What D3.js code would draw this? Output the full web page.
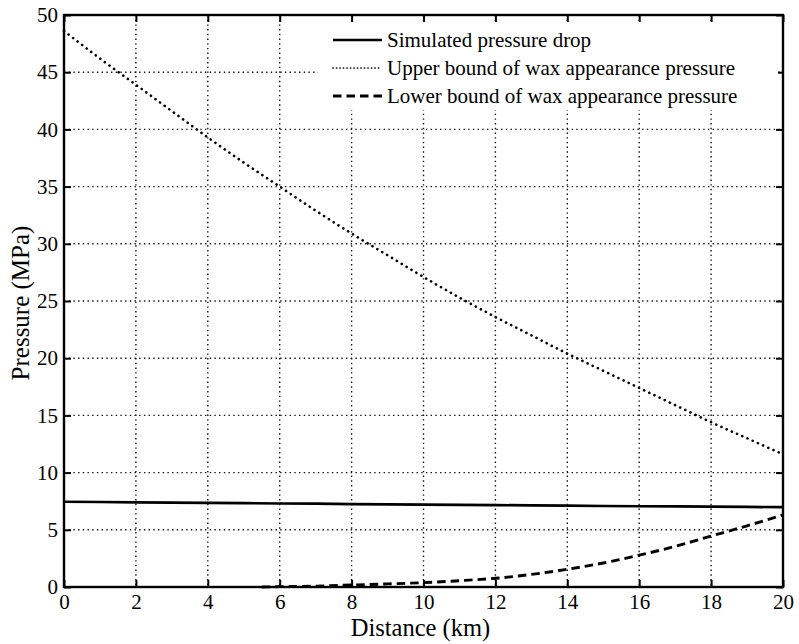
<!DOCTYPE html>
<html>
<head>
<meta charset="utf-8">
<script src="https://cdn.jsdelivr.net/npm/d3@7"></script>
<style>
  html, body { margin: 0; padding: 0; background: #fff; }
  svg { display: block; font-family: "Liberation Serif", "Times New Roman", serif; }
</style>
</head>
<body>
<svg id="chart" width="799" height="644"></svg>
<script>
// Distance along the pipeline (km)
const distance = [0, 1, 2, 3, 4, 5, 6, 7, 8, 9, 10, 11, 12, 13, 14, 15, 16, 17, 18, 19, 20];
// Simulated pressure drop (MPa)
const simulatedPressure = [7.45, 7.43, 7.40, 7.38, 7.35, 7.33, 7.30, 7.28, 7.25, 7.23, 7.20, 7.18, 7.16, 7.13, 7.11, 7.08, 7.06, 7.04, 7.02, 7.00, 6.98];
// Upper bound of wax appearance pressure (MPa)
const upperBound = [48.6, 46.2, 43.9, 41.6, 39.3, 37.1, 35.0, 32.9, 30.9, 29.0, 27.1, 25.3, 23.6, 22.0, 20.4, 18.9, 17.4, 15.9, 14.4, 13.0, 11.6];
// Lower bound of wax appearance pressure (MPa); curve begins near 5.5 km
const lowerDistance = [5.5, 6, 7, 8, 9, 10, 11, 12, 13, 14, 15, 16, 17, 18, 19, 20];
const lowerBound = [0.0, 0.03, 0.08, 0.17, 0.27, 0.38, 0.55, 0.76, 1.1, 1.55, 2.1, 2.78, 3.55, 4.45, 5.35, 6.3];

const xTicks = [0, 2, 4, 6, 8, 10, 12, 14, 16, 18, 20];
const yTicks = [0, 5, 10, 15, 20, 25, 30, 35, 40, 45, 50];

const legendLabels = [
  "Simulated pressure drop",
  "Upper bound of wax appearance pressure",
  "Lower bound of wax appearance pressure"
];

const margin = { left: 64, top: 15, right: 16, bottom: 57 };
const W = 799, H = 644;
const iw = W - margin.left - margin.right;
const ih = H - margin.top - margin.bottom;

const svg = d3.select("#chart");
const g = svg.append("g").attr("transform", `translate(${margin.left},${margin.top})`);

const x = d3.scaleLinear().domain([0, 20]).range([0, iw]);
const y = d3.scaleLinear().domain([0, 50]).range([ih, 0]);

// dotted grid
const grid = g.append("g").attr("class", "grid");
grid.selectAll("line.v").data(xTicks.slice(1, -1)).join("line")
  .attr("x1", d => x(d)).attr("x2", d => x(d))
  .attr("y1", 0).attr("y2", ih)
  .attr("stroke", "#111").attr("stroke-width", 1.4)
  .attr("stroke-dasharray", "1.4,3.3");
grid.selectAll("line.h").data(yTicks.slice(1, -1)).join("line")
  .attr("x1", 0).attr("x2", iw)
  .attr("y1", d => y(d)).attr("y2", d => y(d))
  .attr("stroke", "#111").attr("stroke-width", 1.4)
  .attr("stroke-dasharray", "1.4,3.3");

// axes with inward ticks on all four sides
const tickLen = 7;
function styleAxis(sel) {
  sel.select(".domain").remove();
  sel.selectAll(".tick line").attr("stroke", "#000").attr("stroke-width", 2);
  sel.selectAll(".tick text").attr("fill", "#000").attr("font-size", 21)
    .attr("font-family", "Liberation Serif, Times New Roman, serif");
}
const xAxisB = g.append("g").attr("transform", `translate(0,${ih})`)
  .call(d3.axisBottom(x).tickValues(xTicks).tickSize(-tickLen).tickPadding(8).tickFormat(d3.format("d")));
styleAxis(xAxisB);
xAxisB.selectAll(".tick text").attr("dy", "0.71em").attr("y", 7);

const xAxisT = g.append("g")
  .call(d3.axisTop(x).tickValues(xTicks).tickSize(-tickLen).tickFormat(""));
styleAxis(xAxisT);

const yAxisL = g.append("g")
  .call(d3.axisLeft(y).tickValues(yTicks).tickSize(-tickLen).tickPadding(6).tickFormat(d3.format("d")));
styleAxis(yAxisL);

const yAxisR = g.append("g").attr("transform", `translate(${iw},0)`)
  .call(d3.axisRight(y).tickValues(yTicks).tickSize(-tickLen).tickFormat(""));
styleAxis(yAxisR);

// legend background (covers grid)
const legend = g.append("g");
legend.append("rect")
  .attr("x", 318 - margin.left).attr("y", 22 - margin.top)
  .attr("width", 778 - 318).attr("height", 110 - 22)
  .attr("fill", "#fff");

// data lines
const line = d3.line().x(d => x(d[0])).y(d => y(d[1]));

g.append("path")
  .datum(distance.map((d, i) => [d, simulatedPressure[i]]))
  .attr("d", line).attr("fill", "none")
  .attr("stroke", "#000").attr("stroke-width", 2.7);

g.append("path")
  .datum(distance.map((d, i) => [d, upperBound[i]]))
  .attr("d", d3.line().curve(d3.curveMonotoneX).x(d => x(d[0])).y(d => y(d[1])))
  .attr("fill", "none")
  .attr("stroke", "#000").attr("stroke-width", 2.6)
  .attr("stroke-linecap", "round")
  .attr("stroke-dasharray", "0.1,5.6");

g.append("path")
  .datum(lowerDistance.map((d, i) => [d, lowerBound[i]]))
  .attr("d", d3.line().curve(d3.curveMonotoneX).x(d => x(d[0])).y(d => y(d[1])))
  .attr("fill", "none")
  .attr("stroke", "#000").attr("stroke-width", 2.9)
  .attr("stroke-dasharray", "8.5,5");

// frame
g.append("rect").attr("x", 0).attr("y", 0).attr("width", iw).attr("height", ih)
  .attr("fill", "none").attr("stroke", "#000").attr("stroke-width", 2.4);

// legend entries
const styles = [
  { w: 2.7, dash: null, cap: "butt" },
  { w: 1.7, dash: "0.1,3.4", cap: "round" },
  { w: 2.9, dash: "8.5,5", cap: "butt" }
];
legendLabels.forEach((lab, i) => {
  const cy = 40 + i * 28 - margin.top;
  legend.append("line")
    .attr("x1", 333 - margin.left).attr("x2", 382 - margin.left)
    .attr("y1", cy).attr("y2", cy)
    .attr("stroke", "#000").attr("stroke-width", styles[i].w)
    .attr("stroke-linecap", styles[i].cap)
    .attr("stroke-dasharray", styles[i].dash);
  legend.append("text")
    .attr("x", 387 - margin.left).attr("y", cy + 7)
    .attr("font-size", 21).attr("fill", "#000")
    .text(lab);
});

// axis titles
svg.append("text")
  .attr("x", margin.left + iw / 2 - 3).attr("y", 636)
  .attr("text-anchor", "middle").attr("font-size", 24.5).attr("fill", "#000")
  .text("Distance (km)");
svg.append("text")
  .attr("transform", `translate(29,${margin.top + ih / 2 + 2}) rotate(-90)`)
  .attr("text-anchor", "middle").attr("font-size", 25).attr("fill", "#000")
  .text("Pressure (MPa)");
</script>
</body>
</html>
